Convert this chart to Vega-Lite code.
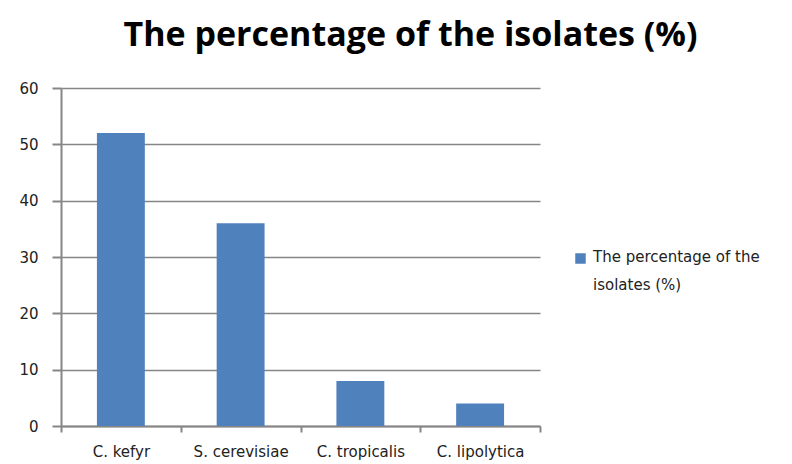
{
  "$schema": "https://vega.github.io/schema/vega-lite/v6.json",
  "autosize": {"type": "none"},
  "width": 479,
  "height": 338,
  "padding": {"left": 61, "top": 88, "right": 252, "bottom": 38},
  "background": "white",
  "title": {
    "text": "The percentage of the isolates (%)",
    "font": "Open Sans",
    "fontSize": 34,
    "fontWeight": "bold",
    "color": "#000000",
    "anchor": "middle",
    "dx": 110,
    "baseline": "alphabetic",
    "offset": 1
  },
  "data": {
    "values": [
      {"species": "C. kefyr", "value": 52, "series": "The percentage of the isolates (%)"},
      {"species": "S. cerevisiae", "value": 36, "series": "The percentage of the isolates (%)"},
      {"species": "C. tropicalis", "value": 8, "series": "The percentage of the isolates (%)"},
      {"species": "C. lipolytica", "value": 4, "series": "The percentage of the isolates (%)"}
    ]
  },
  "mark": {"type": "bar", "width": {"band": 0.4}},
  "encoding": {
    "x": {
      "field": "species",
      "type": "nominal",
      "sort": null,
      "scale": {"paddingInner": 0, "paddingOuter": 0},
      "axis": {
        "title": null,
        "tickBand": "extent",
        "labelAngle": 0,
        "labelFont": "DejaVu Sans",
        "labelFontSize": 15,
        "labelColor": "#222222",
        "labelPadding": 12,
        "tickSize": 6,
        "tickColor": "#868686",
        "tickWidth": 2,
        "domainColor": "#868686",
        "domainWidth": 2,
        "grid": false
      }
    },
    "y": {
      "field": "value",
      "type": "quantitative",
      "scale": {"domain": [0, 60], "nice": false},
      "axis": {
        "title": null,
        "values": [0, 10, 20, 30, 40, 50, 60],
        "labelFont": "DejaVu Sans",
        "labelFontSize": 15,
        "labelColor": "#222222",
        "labelPadding": 14,
        "tickSize": 9,
        "tickColor": "#868686",
        "tickWidth": 2,
        "domainColor": "#868686",
        "domainWidth": 2,
        "grid": true,
        "gridColor": "#868686",
        "gridWidth": 1.5
      }
    },
    "color": {
      "field": "series",
      "type": "nominal",
      "scale": {"range": ["#4f81bd"]},
      "legend": {
        "title": null,
        "orient": "none",
        "legendX": 512,
        "legendY": 163,
        "symbolType": "square",
        "symbolSize": 110,
        "symbolStrokeWidth": 0,
        "labelFont": "DejaVu Sans",
        "labelFontSize": 15,
        "labelColor": "#222222",
        "labelLimit": 400,
        "labelBaseline": "top",
        "labelOffset": 5,
        "labelExpr": "['The percentage of the', 'isolates (%)']",
        "encode": {"labels": {"update": {"lineHeight": {"value": 28}, "dy": {"value": -9}}}}
      }
    }
  },
  "config": {"view": {"stroke": null}}
}
